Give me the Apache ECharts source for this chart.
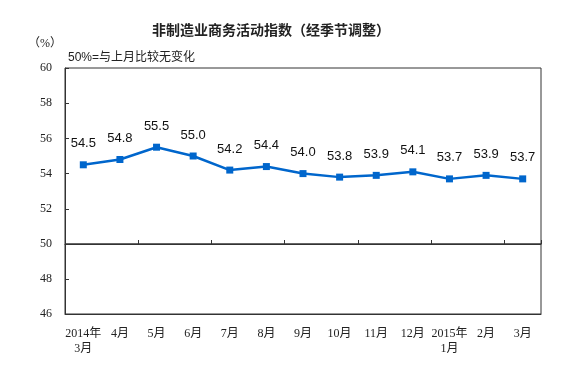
<!DOCTYPE html>
<html><head><meta charset="utf-8">
<script src="https://cdn.jsdelivr.net/npm/echarts@6/dist/echarts.min.js"></script>
<style>html,body{margin:0;padding:0;background:#fff}#c{width:588px;height:374px}</style>
</head><body><div id="c"></div>
<script>
var categories = ['2014年\n3月','4月','5月','6月','7月','8月','9月','10月','11月','12月','2015年\n1月','2月','3月'];
var values = [54.5,54.8,55.5,55.0,54.2,54.4,54.0,53.8,53.9,54.1,53.7,53.9,53.7];
var upperTicks = [50,60];
var lowerTicks = [46,50];
var titleText = '非制造业商务活动指数（经季节调整）';
var unitText = '（%）';
var noteText = '50%=与上月比较无变化';

var serif = '"Liberation Serif","Noto Sans CJK SC",serif';
var chart = echarts.init(document.getElementById('c'));
chart.setOption({
  animation:false,
  backgroundColor:'#fff',
  title:{text:titleText,left:266,top:18,textAlign:'center',
    textStyle:{fontSize:14,fontWeight:'bold',color:'#222',fontFamily:'"Noto Sans CJK SC",sans-serif'}},
  graphic:[
    {type:'text',left:28,top:38,style:{text:unitText,font:'12px '+serif,fill:'#222'}},
    {type:'text',left:68,top:52,style:{text:noteText,font:'12px "Liberation Sans","Noto Sans CJK SC",sans-serif',fill:'#222'}}
  ],
  grid:[
    {left:65,right:47,top:68,height:176,show:true,borderColor:'#333',borderWidth:1,backgroundColor:'transparent'},
    {left:65,right:47,top:244,height:70,show:true,borderColor:'#333',borderWidth:1,backgroundColor:'transparent'}
  ],
  xAxis:[
    {gridIndex:0,type:'category',data:categories,boundaryGap:true,
     axisLine:{show:true,lineStyle:{color:'#333'}},
     axisTick:{show:true,inside:true,length:4,lineStyle:{color:'#333'}},
     axisLabel:{show:false},splitLine:{show:false}},
    {gridIndex:1,type:'category',data:categories,boundaryGap:true,
     axisLine:{show:true,lineStyle:{color:'#333'}},
     axisTick:{show:false},
     axisLabel:{show:true,interval:0,margin:12,color:'#222',fontSize:12,lineHeight:15,fontFamily:serif},
     splitLine:{show:false}}
  ],
  yAxis:[
    {gridIndex:0,type:'value',min:upperTicks[0],max:upperTicks[1],interval:2,
     axisLine:{show:true,lineStyle:{color:'#333'}},
     axisTick:{show:true,inside:true,length:4,lineStyle:{color:'#333'}},
     axisLabel:{margin:13,color:'#222',fontSize:12,fontFamily:serif,
       formatter:function(v){return v===50?'':String(v);}},
     splitLine:{show:false}},
    {gridIndex:1,type:'value',min:lowerTicks[0],max:lowerTicks[1],interval:2,
     axisLine:{show:true,lineStyle:{color:'#333'}},
     axisTick:{show:true,inside:true,length:4,lineStyle:{color:'#333'}},
     axisLabel:{margin:13,color:'#222',fontSize:12,fontFamily:serif},
     splitLine:{show:false}}
  ],
  series:[{
    type:'line',xAxisIndex:0,yAxisIndex:0,data:values,
    symbol:'rect',symbolSize:7,showAllSymbol:true,
    lineStyle:{color:'#0066CC',width:2.5},
    itemStyle:{color:'#0066CC'},
    label:{show:true,position:'top',distance:11,color:'#111',fontSize:13,
      fontFamily:'"Liberation Sans",Arial,sans-serif',
      formatter:function(p){return p.value.toFixed(1);}}
  }]
});
</script></body></html>
